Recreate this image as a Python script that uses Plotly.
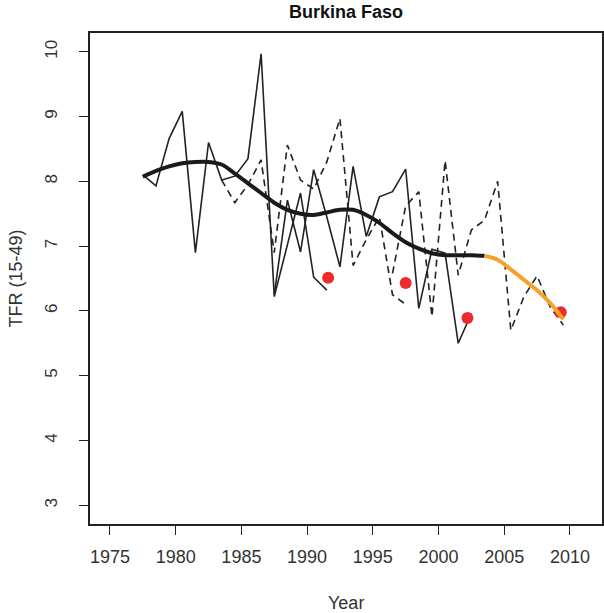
import plotly.graph_objects as go

# --- data ---
s1_years = [1977.5, 1978.5, 1979.5, 1980.5, 1981.5, 1982.5, 1983.5, 1984.5, 1985.5,
            1986.5, 1987.5, 1988.5, 1989.5, 1990.5, 1991.5]
s1_tfr = [8.10, 7.93, 8.66, 9.08, 6.90, 8.60, 8.02, 8.08, 8.35,
          9.97, 6.22, 7.00, 7.82, 6.52, 6.32]

s2_years = [1983.5, 1984.5, 1985.5, 1986.5, 1987.5, 1988.5, 1989.5, 1990.5, 1991.5,
            1992.5, 1993.5, 1994.5, 1995.5, 1996.5, 1997.5]
s2_tfr = [8.02, 7.67, 7.95, 8.33, 6.90, 8.56, 8.02, 7.88, 8.30,
          8.97, 6.70, 7.10, 7.45, 6.25, 6.10]

s3_years = [1987.5, 1988.5, 1989.5, 1990.5, 1991.5, 1992.5, 1993.5, 1994.5, 1995.5,
            1996.5, 1997.5, 1998.5, 1999.5, 2000.5, 2001.5, 2002.5]
s3_tfr = [6.25, 7.71, 6.91, 8.18, 7.45, 6.68, 8.23, 7.15, 7.76,
          7.84, 8.19, 6.04, 6.95, 6.89, 5.50, 5.96]

s4_years = [1996.5, 1997.5, 1998.5, 1999.5, 2000.5, 2001.5, 2002.5, 2003.5, 2004.5,
            2005.5, 2006.5, 2007.5, 2008.5, 2009.5]
s4_tfr = [6.58, 7.62, 7.84, 5.91, 8.32, 6.55, 7.25, 7.40, 8.00,
          5.70, 6.22, 6.54, 6.06, 5.78]

trend_years = [1977.5, 1978.5, 1979.5, 1980.5, 1981.5, 1982.5, 1983.5, 1984.5, 1985.5,
               1986.5, 1987.5, 1988.5, 1989.5, 1990.5, 1991.5, 1992.5, 1993.5, 1994.5,
               1995.5, 1996.5, 1997.5, 1998.5, 1999.5, 2000.5, 2001.5, 2002.5, 2003.5]
trend_tfr = [8.07, 8.16, 8.23, 8.28, 8.30, 8.30, 8.26, 8.12, 7.97,
             7.82, 7.67, 7.56, 7.50, 7.48, 7.52, 7.56, 7.56, 7.48,
             7.36, 7.20, 7.06, 6.96, 6.89, 6.86, 6.86, 6.86, 6.85]

proj_years = [2003.5, 2004.5, 2005.5, 2006.5, 2007.5, 2008.5, 2009.5]
proj_tfr = [6.85, 6.79, 6.64, 6.48, 6.32, 6.12, 5.87]

survey_years = [1991.6, 1997.5, 2002.2, 2009.3]
survey_tfr = [6.51, 6.43, 5.89, 5.98]

x_ticks = [1975, 1980, 1985, 1990, 1995, 2000, 2005, 2010]
y_ticks = [3, 4, 5, 6, 7, 8, 9, 10]

FONT = "Liberation Sans, Arial, sans-serif"
INK = "#222222"
TXT = "#333333"

fig = go.Figure()

for yrs, vals, dash in [(s1_years, s1_tfr, "solid"), (s2_years, s2_tfr, "7px,5px"),
                        (s3_years, s3_tfr, "solid"), (s4_years, s4_tfr, "7px,5px")]:
    fig.add_trace(go.Scatter(x=yrs, y=vals, mode="lines",
                             line=dict(color=INK, width=1.6, dash=dash),
                             hoverinfo="skip", showlegend=False))

fig.add_trace(go.Scatter(x=survey_years, y=survey_tfr, mode="markers",
                         marker=dict(color="#EE2B2B", size=12, line=dict(width=0)),
                         showlegend=False))

fig.add_trace(go.Scatter(x=trend_years, y=trend_tfr, mode="lines",
                         line=dict(color="#1a1a1a", width=4, shape="spline", smoothing=0.8),
                         showlegend=False))
fig.add_trace(go.Scatter(x=proj_years, y=proj_tfr, mode="lines",
                         line=dict(color="#F5A328", width=4, shape="spline", smoothing=0.8),
                         showlegend=False))

fig.update_layout(
    width=604, height=613,
    margin=dict(l=90, r=2, t=33, b=89, autoexpand=False),
    paper_bgcolor="white", plot_bgcolor="white",
    font=dict(family=FONT, size=18, color=TXT),
    showlegend=False,
    xaxis=dict(range=[1973.48, 2012.44], tickvals=x_ticks, ticktext=[str(v) for v in x_ticks],
               automargin=False,
               showgrid=False, zeroline=False, showline=True, mirror=True,
               linecolor=INK, linewidth=1.5, ticks="outside", ticklen=9,
               tickwidth=1.3, tickcolor=INK, ticklabelstandoff=7,
               tickfont=dict(family=FONT, size=18, color=TXT)),
    yaxis=dict(range=[2.71, 10.29], tickvals=y_ticks, ticktext=[str(v) for v in y_ticks],
               automargin=False,
               showgrid=False, zeroline=False, showline=True, mirror=True,
               linecolor=INK, linewidth=1.5, ticks="outside", ticklen=9,
               tickwidth=1.3, tickcolor=INK, tickangle=-90, ticklabelstandoff=15,
               tickfont=dict(family=FONT, size=17, color=TXT)),
    annotations=[
        dict(text="<b>Burkina Faso</b>", xref="paper", yref="paper", x=0.5, y=1,
             yshift=21, showarrow=False, font=dict(family=FONT, size=18, color="#111111"),
             xanchor="center", yanchor="middle"),
        dict(text="Year", xref="paper", yref="paper", x=0.5, y=0, yshift=-79,
             showarrow=False, font=dict(family=FONT, size=18, color=TXT),
             xanchor="center", yanchor="middle"),
        dict(text="TFR (15-49)", xref="paper", yref="paper", x=0, y=0.5, xshift=-75,
             textangle=-90, showarrow=False, font=dict(family=FONT, size=18, color=TXT),
             xanchor="center", yanchor="middle"),
    ],
)

# remove the browser's default 8px page margin so the figure fills the window exactly
fig.write_html("out.html", config={"displayModeBar": False},
               post_script="document.body.style.margin='0';")
